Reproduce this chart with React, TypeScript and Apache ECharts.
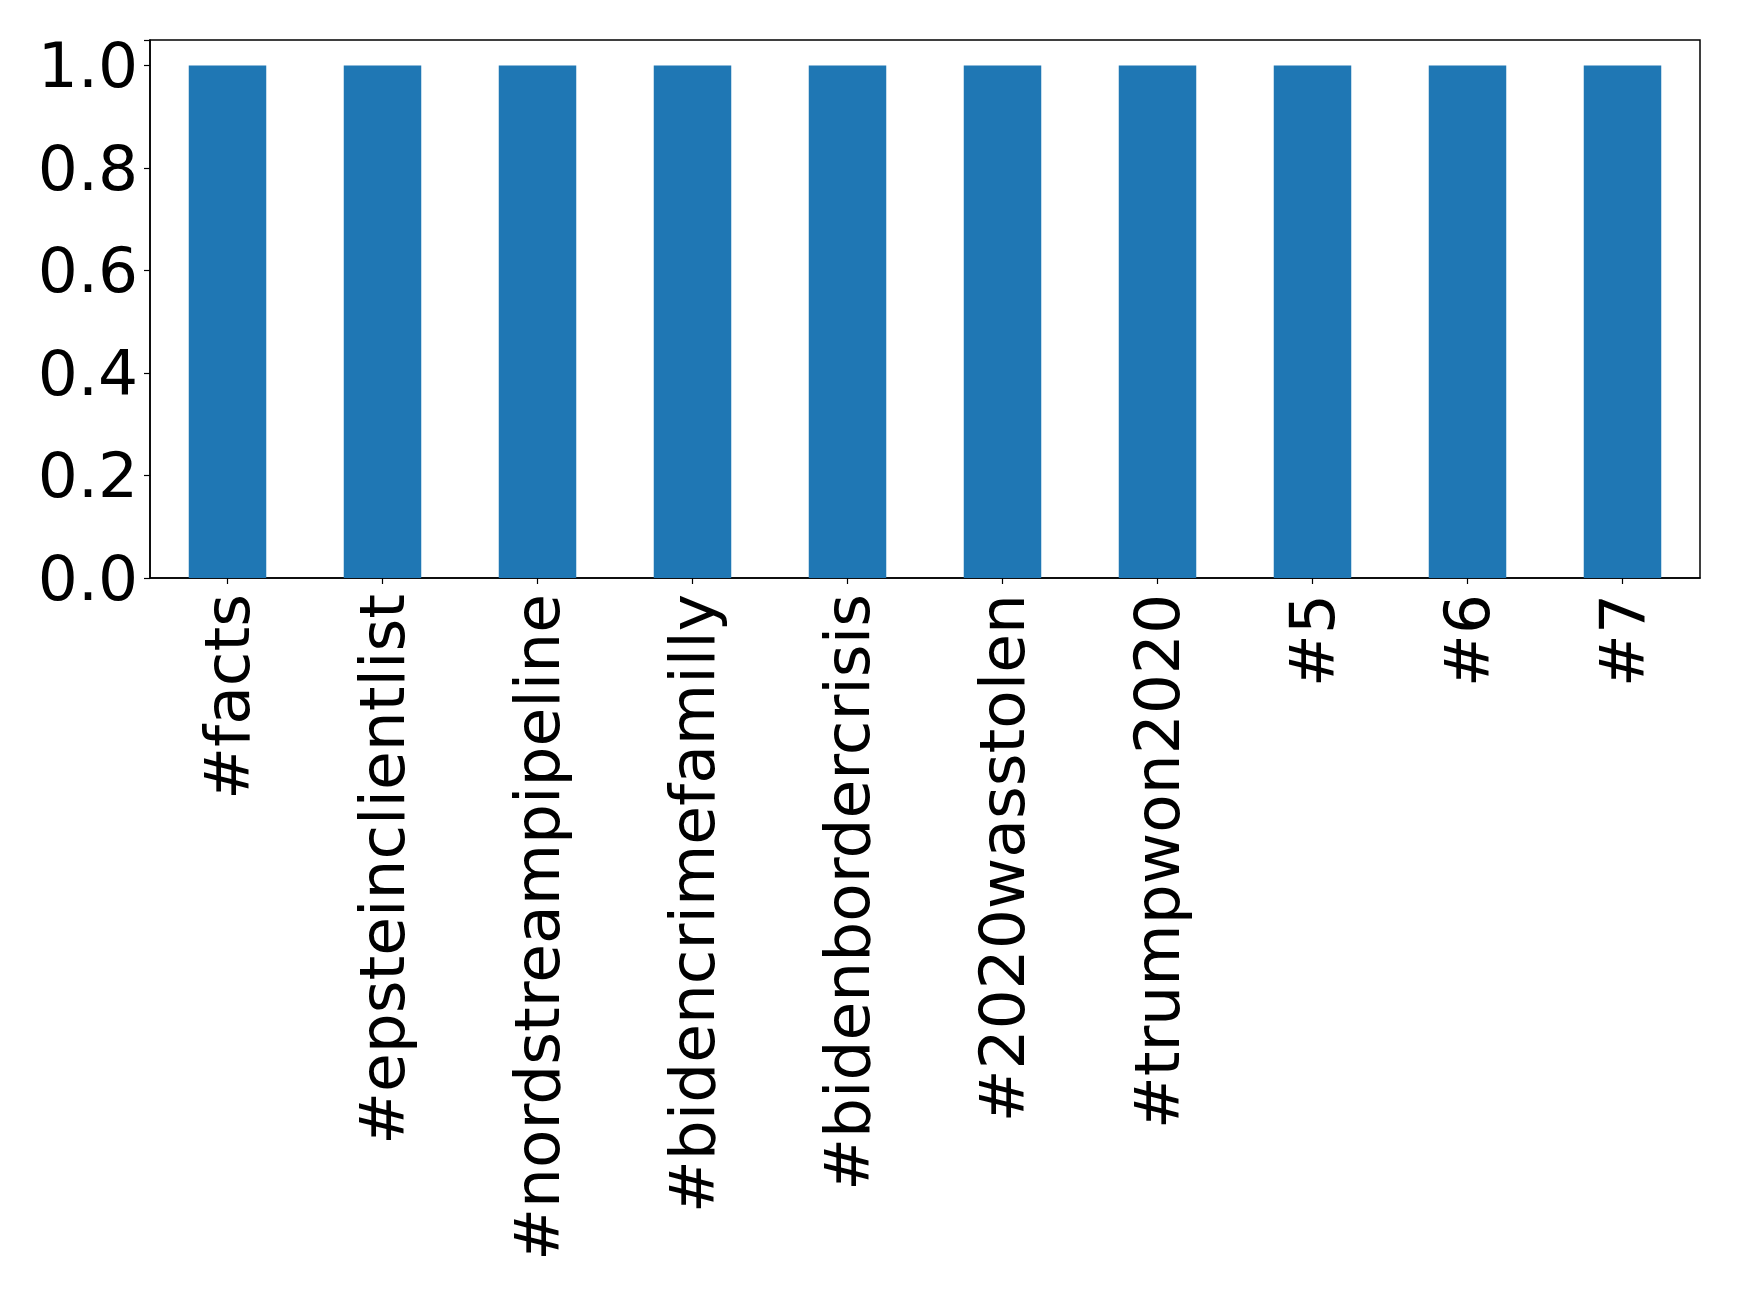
import React, { useEffect, useRef } from "react";
import * as echarts from "echarts";

const categories = [
  "#facts",
  "#epsteinclientlist",
  "#nordstreampipeline",
  "#bidencrimefamilly",
  "#bidenbordercrisis",
  "#2020wasstolen",
  "#trumpwon2020",
  "#5",
  "#6",
  "#7",
];
const values = [1, 1, 1, 1, 1, 1, 1, 1, 1, 1];
const yTicks = [0, 0.2, 0.4, 0.6, 0.8, 1.0];

export default function App() {
  const ref = useRef<HTMLDivElement>(null);
  useEffect(() => {
    if (!ref.current) return;
    const chart = echarts.init(ref.current, undefined, { renderer: "svg" });
    const font = "DejaVu Sans";
    chart.setOption({
      animation: false,
      backgroundColor: "#ffffff",
      grid: {
        left: 150,
        top: 40,
        width: 1550,
        height: 538,
        show: true,
        borderColor: "#000000",
        borderWidth: 1.5,
        backgroundColor: "transparent",
      },
      xAxis: {
        type: "category",
        data: categories,
        boundaryGap: true,
        axisLine: { show: true, lineStyle: { color: "#000000", width: 1.5 } },
        axisTick: { show: true, alignWithLabel: true, length: 6, lineStyle: { color: "#000000", width: 1.2 } },
        axisLabel: {
          rotate: 90,
          interval: 0,
          fontSize: 63,
          fontFamily: font,
          color: "#000000",
          margin: 16,
        },
        splitLine: { show: false },
      },
      yAxis: {
        type: "value",
        min: 0,
        max: 1.05,
        interval: 0.2,
        axisLine: { show: true, lineStyle: { color: "#000000", width: 1.5 } },
        axisTick: { show: true, length: 6, lineStyle: { color: "#000000", width: 1.2 } },
        axisLabel: {
          fontSize: 63,
          fontFamily: font,
          color: "#000000",
          margin: 12,
          formatter: (v: number) =>
            yTicks.some((t) => Math.abs(t - v) < 1e-6) ? v.toFixed(1) : "",
        },
        splitLine: { show: false },
      },
      series: [
        {
          type: "bar",
          data: values,
          barWidth: "50%",
          itemStyle: { color: "#1f77b4" },
        },
      ],
    });
    return () => chart.dispose();
  }, []);
  return (
    <div
      ref={ref}
      style={{ position: "absolute", left: 0, top: 0, width: 1739, height: 1289 }}
    />
  );
}
